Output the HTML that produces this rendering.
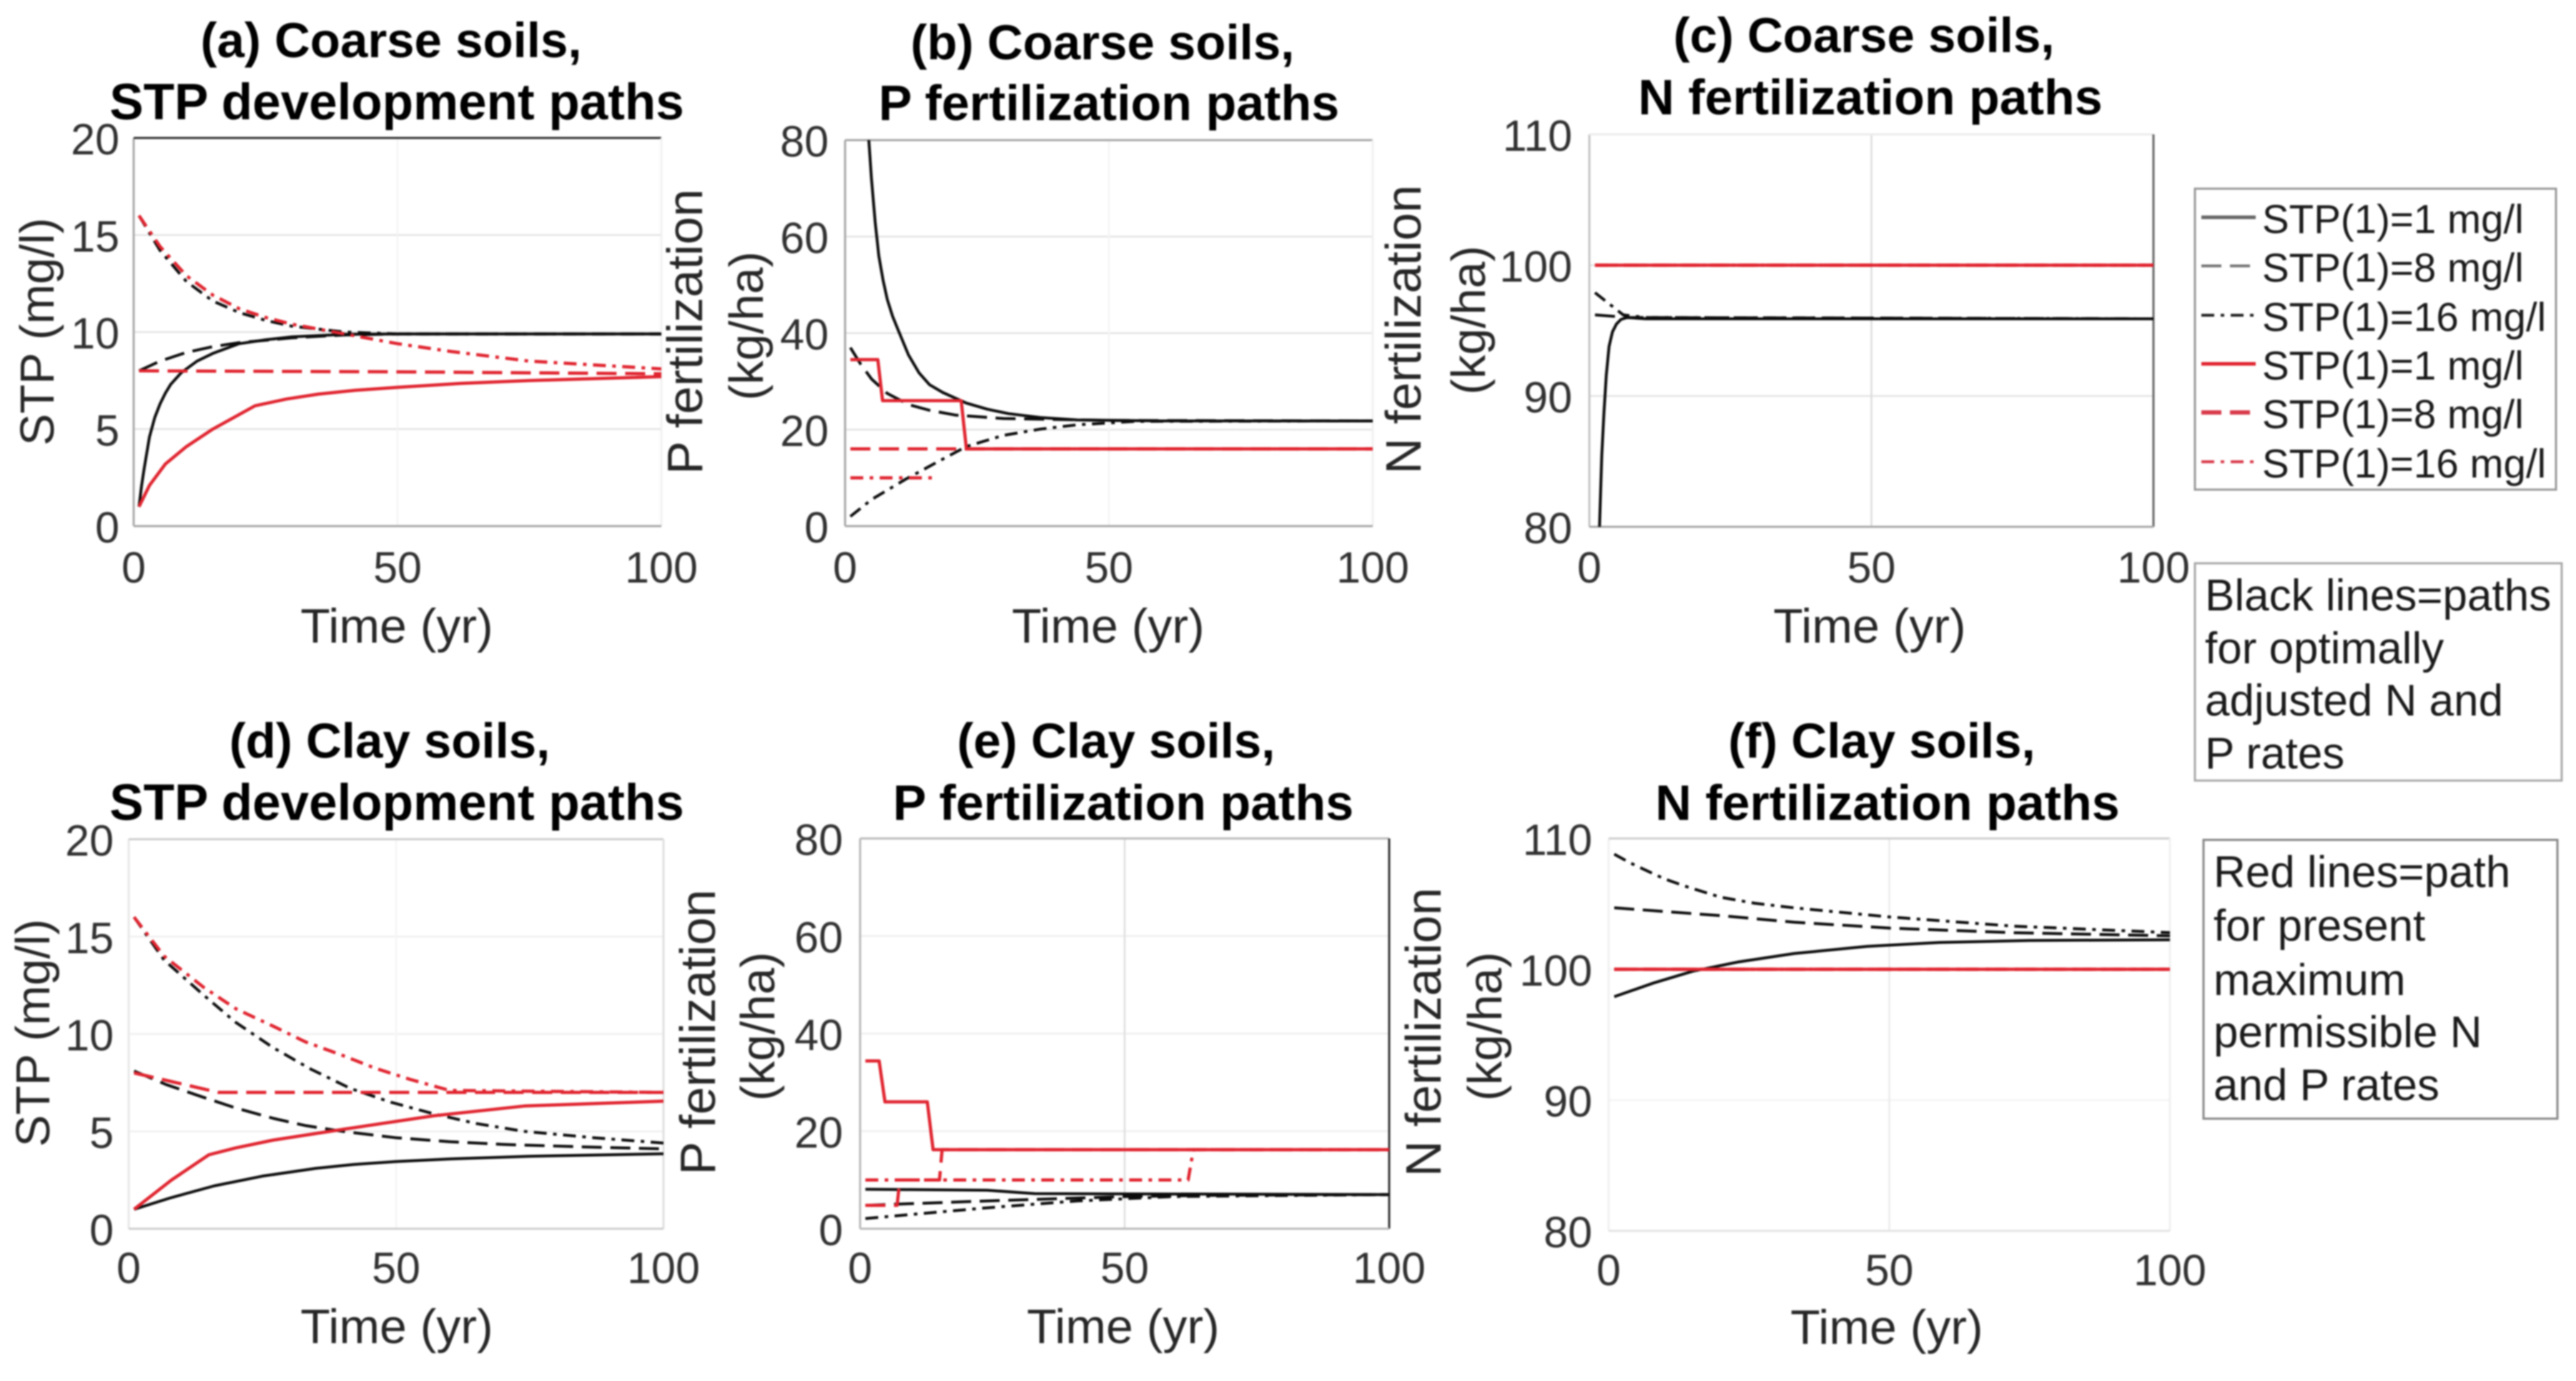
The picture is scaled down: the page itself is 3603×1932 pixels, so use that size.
<!DOCTYPE html>
<html lang="en">
<head>
<meta charset="utf-8">
<title>Coarse and clay soil fertilization paths</title>
<style>
html,body{margin:0;padding:0;background:#fff;width:3603px;height:1932px;overflow:hidden}
svg{display:block;filter:blur(1px)}
text{font-family:"Liberation Sans",Arial,sans-serif}
.title{font-size:70px;font-weight:bold;fill:#000;text-anchor:middle}
.title1{font-size:69px}
.title2{font-size:71px}
.lab{font-size:67px;fill:#262626;text-anchor:middle}
.time{font-size:68px}
.fert{font-size:70px}
.tick{font-size:61px;fill:#303030}
.leg{font-size:56.5px;fill:#1a1a1a}
.note{font-size:62px;fill:#1a1a1a}
</style>
</head>
<body>
<svg id="figure" xmlns="http://www.w3.org/2000/svg" width="3603" height="1932" viewBox="0 0 3603 1932">
  <rect width="3603" height="1932" fill="#fff"/>

  <g>
    <text class="title title1" x="547" y="80">(a) Coarse soils,</text>
    <text class="title title2" x="555" y="167">STP development paths</text>
    <text class="title title1" x="1542" y="83">(b) Coarse soils,</text>
    <text class="title" x="1551" y="168">P fertilization paths</text>
    <text class="title title1" x="2607" y="73">(c) Coarse soils,</text>
    <text class="title" x="2616" y="160">N fertilization paths</text>
    <text class="title title1" x="545" y="1060">(d) Clay soils,</text>
    <text class="title title2" x="555" y="1147">STP development paths</text>
    <text class="title title1" x="1561" y="1060">(e) Clay soils,</text>
    <text class="title" x="1571" y="1147">P fertilization paths</text>
    <text class="title title1" x="2632" y="1060">(f) Clay soils,</text>
    <text class="title" x="2640" y="1147">N fertilization paths</text>
  </g>

  <g>
    <text class="lab time" x="555" y="899">Time (yr)</text>
    <text class="lab time" x="1550" y="899">Time (yr)</text>
    <text class="lab time" x="2615" y="899">Time (yr)</text>
    <text class="lab time" x="555" y="1879">Time (yr)</text>
    <text class="lab time" x="1571" y="1879">Time (yr)</text>
    <text class="lab time" x="2639" y="1880">Time (yr)</text>
  </g>

  <g>
    <text class="lab" transform="translate(75 464) rotate(-90)">STP (mg/l)</text>
    <text class="lab fert" transform="translate(982 464) rotate(-90)">P fertilization</text>
    <text class="lab" transform="translate(1067 456) rotate(-90)">(kg/ha)</text>
    <text class="lab fert" transform="translate(1987 461) rotate(-90)">N fertilization</text>
    <text class="lab" transform="translate(2077 448) rotate(-90)">(kg/ha)</text>
    <text class="lab" transform="translate(69 1445) rotate(-90)">STP (mg/l)</text>
    <text class="lab fert" transform="translate(1000 1444) rotate(-90)">P fertilization</text>
    <text class="lab" transform="translate(1083 1436) rotate(-90)">(kg/ha)</text>
    <text class="lab fert" transform="translate(2015 1444) rotate(-90)">N fertilization</text>
    <text class="lab" transform="translate(2100 1436) rotate(-90)">(kg/ha)</text>
  </g>

  <g id="panels"></g>

  <g>
    <rect x="3070" y="264" width="505" height="421" fill="#fff" stroke="#999" stroke-width="3"/>
    <line x1="3079" x2="3155" y1="304" y2="304" stroke="#666" stroke-width="5"/>
    <text class="leg" x="3164" y="326">STP(1)=1 mg/l</text>
    <line x1="3079" x2="3155" y1="372" y2="372" stroke="#777" stroke-width="4" stroke-dasharray="28 12"/>
    <text class="leg" x="3164" y="394">STP(1)=8 mg/l</text>
    <line x1="3079" x2="3155" y1="441" y2="441" stroke="#222" stroke-width="4" stroke-dasharray="18 9 5 9"/>
    <text class="leg" x="3164" y="463">STP(1)=16 mg/l</text>
    <line x1="3079" x2="3155" y1="509" y2="509" stroke="#e0242f" stroke-width="5"/>
    <text class="leg" x="3164" y="531">STP(1)=1 mg/l</text>
    <line x1="3079" x2="3155" y1="577" y2="577" stroke="#d83a4a" stroke-width="6" stroke-dasharray="28 12"/>
    <text class="leg" x="3164" y="599">STP(1)=8 mg/l</text>
    <line x1="3079" x2="3155" y1="646" y2="646" stroke="#d83a4a" stroke-width="4" stroke-dasharray="18 9 5 9"/>
    <text class="leg" x="3164" y="668">STP(1)=16 mg/l</text>
  </g>

  <g>
    <rect x="3070" y="788" width="513" height="304" fill="#fff" stroke="#aaa" stroke-width="3"/>
    <text class="note" x="3084" y="854">Black lines=paths</text>
    <text class="note" x="3084" y="928">for optimally</text>
    <text class="note" x="3084" y="1001">adjusted N and</text>
    <text class="note" x="3084" y="1075">P rates</text>
  </g>

  <g>
    <rect x="3082" y="1175" width="495" height="390" fill="#fff" stroke="#888" stroke-width="3"/>
    <text class="note" x="3096" y="1241">Red lines=path</text>
    <text class="note" x="3096" y="1316">for present</text>
    <text class="note" x="3096" y="1392">maximum</text>
    <text class="note" x="3096" y="1465">permissible N</text>
    <text class="note" x="3096" y="1539">and P rates</text>
  </g>
</svg>

<script>
// Tick labels
const xTickValues = [0, 50, 100];
const stpTicks = [0, 5, 10, 15, 20];
const pTicks = [0, 20, 40, 60, 80];
const nTicks = [80, 90, 100, 110];

// Panel (a): coarse soils, STP development
const aBlackSolidT = [1, 1.5, 2, 3, 4, 5, 6, 7, 9, 12, 15, 20, 25, 30, 40, 50, 100];
const aBlackSolidV = [1, 2.1, 3, 4.6, 5.6, 6.3, 6.85, 7.3, 7.9, 8.5, 8.9, 9.4, 9.6, 9.75, 9.88, 9.9, 9.9];
const aBlackDashT = [1, 5, 10, 15, 20, 30, 40, 50, 100];
const aBlackDashV = [8, 8.5, 8.95, 9.25, 9.45, 9.7, 9.85, 9.9, 9.9];
const aBlackDotT = [1, 5, 10, 15, 20, 25, 30, 40, 50, 100];
const aBlackDotV = [16, 14.2, 12.6, 11.6, 11, 10.6, 10.3, 10, 9.9, 9.9];
const aRedSolidT = [1, 3, 6, 10, 15, 23, 29, 35, 42, 50, 62, 75, 100];
const aRedSolidV = [1, 2.1, 3.2, 4.1, 5, 6.2, 6.55, 6.8, 7, 7.15, 7.35, 7.5, 7.7];
const aRedDashT = [1, 50, 100];
const aRedDashV = [8, 7.95, 7.85];
const aRedDotT = [1, 5, 10, 15, 20, 25, 30, 40, 50, 60, 75, 100];
const aRedDotV = [16, 14.4, 12.9, 11.9, 11.2, 10.75, 10.4, 9.9, 9.4, 9, 8.5, 8.1];

// Panel (b): coarse soils, P fertilization
const bBlackSolidT = [4, 4.5, 5, 5.7, 6.4, 7.2, 8, 9, 10, 12, 14, 16, 18.5, 23, 27, 31, 37, 44, 60, 100];
const bBlackSolidV = [90, 80, 72, 63, 56, 51, 47, 43.5, 40.8, 35.5, 31.8, 29.3, 27.7, 25.5, 24.2, 23.3, 22.5, 22, 21.8, 21.8];
const bBlackDashT = [1, 3, 5, 8, 12, 16, 21, 30, 50, 100];
const bBlackDashV = [37, 33.5, 30.5, 27.5, 25.2, 24, 23, 22.3, 21.9, 21.8];
const bBlackDotT = [1, 5, 11.6, 17, 23, 30, 37, 44, 55, 100];
const bBlackDotV = [2, 5.5, 9.8, 13, 16.5, 18.8, 20.1, 21, 21.7, 21.8];
const bRedSolidT = [1, 6.2, 7.1, 22, 23, 100];
const bRedSolidV = [34.5, 34.5, 26, 26, 16, 16];
const bRedDashT = [1, 23, 100];
const bRedDashV = [16, 16, 16];
const bRedDotT = [1, 16.7];
const bRedDotV = [10, 10];

// Panel (c): coarse soils, N fertilization
const cBlackSolidT = [1.5, 1.8, 2.2, 2.6, 3, 3.5, 4.1, 4.8, 5.6, 6.7, 10, 100];
const cBlackSolidV = [75, 80, 85.5, 88.8, 91.6, 93.8, 94.9, 95.5, 95.85, 96, 95.9, 95.9];
const cBlackDashT = [1, 7, 100];
const cBlackDashV = [96.2, 96, 95.9];
const cBlackDotT = [1, 6, 10, 100];
const cBlackDotV = [97.9, 96.2, 96, 95.9];
const cRedSolidT = [1, 100];
const cRedSolidV = [100, 100];
const cRedDashT = [1, 100];
const cRedDashV = [100, 100];
const cRedDotT = [1, 100];
const cRedDotV = [100, 100];

// Panel (d): clay soils, STP development
const dBlackSolidT = [1, 8, 16, 25, 35, 42, 50, 60, 75, 100];
const dBlackSolidV = [1, 1.6, 2.2, 2.7, 3.1, 3.3, 3.45, 3.58, 3.72, 3.85];
const dBlackDashT = [1, 7, 13.4, 20, 27, 33, 40, 50, 60, 70, 85, 100];
const dBlackDashV = [8.1, 7.4, 6.8, 6.2, 5.67, 5.3, 5, 4.67, 4.47, 4.33, 4.2, 4.1];
const dBlackDotT = [1, 6.6, 14, 20, 27, 34, 41.5, 49, 57, 65, 74, 87, 100];
const dBlackDotV = [16, 13.8, 12, 10.6, 9.3, 8.2, 7.2, 6.5, 5.9, 5.4, 5, 4.67, 4.4];
const dRedSolidT = [1, 8, 15, 20, 27, 40, 57, 74, 100];
const dRedSolidV = [1, 2.5, 3.8, 4.15, 4.55, 5.1, 5.8, 6.3, 6.55];
const dRedDashT = [1, 16.8, 100];
const dRedDashV = [8, 7, 7];
const dRedDotT = [1, 6.6, 14, 20, 27, 33, 40, 46, 52.6, 60, 100];
const dRedDotV = [16, 14, 12.4, 11.3, 10.4, 9.6, 8.9, 8.25, 7.67, 7.1, 7];

// Panel (e): clay soils, P fertilization
const eBlackSolidT = [1, 24, 33, 100];
const eBlackSolidV = [8.1, 7.9, 7.2, 7];
const eBlackDashT = [1, 24, 50, 67, 100];
const eBlackDashV = [4.8, 5.7, 6.6, 6.85, 7];
const eBlackDotT = [1, 24, 41, 59, 100];
const eBlackDotV = [2.1, 4.3, 5.7, 6.6, 7];
const eRedSolidT = [1, 3.6, 4.7, 12.7, 13.8, 100];
const eRedSolidV = [34.4, 34.4, 26, 26, 16.2, 16.2];
const eRedDashT = [1, 7, 7.5, 15, 15.5, 100];
const eRedDashV = [4.8, 4.8, 10, 10, 16.2, 16.2];
const eRedDotT = [1, 62, 63, 100];
const eRedDotV = [10, 10, 16.2, 16.2];

// Panel (f): clay soils, N fertilization
const fBlackSolidT = [1, 8, 15, 23, 33, 46, 59, 75, 100];
const fBlackSolidV = [97.9, 98.95, 99.85, 100.55, 101.2, 101.75, 102.05, 102.2, 102.25];
const fBlackDashT = [1, 20, 33, 50, 72, 100];
const fBlackDashV = [104.7, 104.1, 103.6, 103.15, 102.8, 102.55];
const fBlackDotT = [1, 4, 7, 10, 14, 20, 26, 33, 50, 72, 100];
const fBlackDotV = [108.8, 108.1, 107.5, 106.9, 106.3, 105.5, 105.05, 104.7, 104, 103.3, 102.8];
const fRedSolidT = [1, 100];
const fRedSolidV = [100, 100];
const fRedDashT = [1, 100];
const fRedDashV = [100, 100];
const fRedDotT = [1, 100];
const fRedDotV = [100, 100];

const SVG_NS = 'http://www.w3.org/2000/svg';
const panelsRoot = document.getElementById('panels');

function makeEl(tag, attrs, parent) {
  const el = document.createElementNS(SVG_NS, tag);
  for (const k in attrs) el.setAttribute(k, attrs[k]);
  parent.appendChild(el);
  return el;
}

function linePath(ts, vs, xs, ys) {
  return ts.map((t, i) => (i ? 'L' : 'M') + xs(t).toFixed(1) + ' ' + ys(vs[i]).toFixed(1)).join(' ');
}

function lineStyle(kind) {
  const red = kind.indexOf('red') === 0;
  const dash = kind.indexOf('dash') > 0;
  const dot = kind.indexOf('dot') > 0;
  return {
    stroke: red ? '#e0242f' : '#0c0c0c',
    width: red ? 4.5 : 4,
    dash: dash ? '28 12' : (dot ? '18 9 5 9' : 'none')
  };
}

function drawPanel(cfg) {
  const g = makeEl('g', {}, panelsRoot);
  
  

  const xs = t => cfg.x0 + (t / 100) * (cfg.x1 - cfg.x0);
  const ys = v => cfg.y1 - ((v - cfg.ticks[0]) / (cfg.ticks[cfg.ticks.length - 1] - cfg.ticks[0])) * (cfg.y1 - cfg.y0);

  // grid
  cfg.ticks.slice(1, -1).forEach(v => {
    const gl = makeEl('line', { x1: cfg.x0, x2: cfg.x1, y1: ys(v), y2: ys(v), stroke: cfg.gridY, 'stroke-width': 2.5 }, g);
    
    
  });
  const gx = makeEl('line', { x1: xs(50), x2: xs(50), y1: cfg.y0, y2: cfg.y1, stroke: cfg.gridX, 'stroke-width': 2.5 }, g);
  
  

  // frame edges
  const edges = [
    ['left', cfg.x0, cfg.y0, cfg.x0, cfg.y1],
    ['top', cfg.x0, cfg.y0, cfg.x1, cfg.y0],
    ['right', cfg.x1, cfg.y0, cfg.x1, cfg.y1],
    ['bottom', cfg.x0, cfg.y1, cfg.x1, cfg.y1]
  ];
  edges.forEach((e, i) => {
    const ln = makeEl('line', { x1: e[1], y1: e[2], x2: e[3], y2: e[4], stroke: cfg.edges[i], 'stroke-width': 3 }, g);
    
    
  });

  // x tick labels
  xTickValues.forEach(t => {
    const tx = makeEl('text', { class: 'tick', x: xs(t), y: cfg.xLabelY, 'text-anchor': 'middle' }, g);
    
    
    tx.textContent = t;
  });

  // y tick labels
  cfg.ticks.forEach(v => {
    const ty = makeEl('text', { class: 'tick', x: cfg.yLabelX, y: ys(v) + 23, 'text-anchor': 'end' }, g);
    
    
    ty.textContent = v;
  });

  // clip
  const clip = makeEl('clipPath', { id: 'clip-' + cfg.id }, g);
  makeEl('rect', { x: cfg.x0, y: cfg.y0, width: cfg.x1 - cfg.x0, height: cfg.y1 - cfg.y0 }, clip);
  const plot = makeEl('g', { 'clip-path': 'url(#clip-' + cfg.id + ')' }, g);

  // series
  cfg.series.forEach(s => {
    const st = lineStyle(s.kind);
    const p = makeEl('path', {
      d: linePath(s.t, s.v, xs, ys),
      fill: 'none',
      stroke: st.stroke,
      'stroke-width': st.width,
      'stroke-dasharray': st.dash,
      'stroke-linejoin': 'round'
    }, plot);
    
    
  });
}

drawPanel({
  id: 'a', x0: 187, x1: 925, y0: 193, y1: 736, ticks: stpTicks, xLabelY: 815, yLabelX: 167,
  edges: ['#aaa', '#333', '#f0f0f0', '#aaa'], gridX: '#f4f4f4', gridY: '#e4e4e4',
  series: [
    { kind: 'black-solid', t: aBlackSolidT, v: aBlackSolidV },
    { kind: 'black-dash', t: aBlackDashT, v: aBlackDashV },
    { kind: 'black-dot', t: aBlackDotT, v: aBlackDotV },
    { kind: 'red-solid', t: aRedSolidT, v: aRedSolidV },
    { kind: 'red-dash', t: aRedDashT, v: aRedDashV },
    { kind: 'red-dot', t: aRedDotT, v: aRedDotV }
  ]
});

drawPanel({
  id: 'b', x0: 1182, x1: 1920, y0: 196, y1: 736, ticks: pTicks, xLabelY: 815, yLabelX: 1159,
  edges: ['#aaa', '#aaa', '#f0f0f0', '#aaa'], gridX: '#f4f4f4', gridY: '#e4e4e4',
  series: [
    { kind: 'black-solid', t: bBlackSolidT, v: bBlackSolidV },
    { kind: 'black-dash', t: bBlackDashT, v: bBlackDashV },
    { kind: 'black-dot', t: bBlackDotT, v: bBlackDotV },
    { kind: 'red-solid', t: bRedSolidT, v: bRedSolidV },
    { kind: 'red-dash', t: bRedDashT, v: bRedDashV },
    { kind: 'red-dot', t: bRedDotT, v: bRedDotV }
  ]
});

drawPanel({
  id: 'c', x0: 2223, x1: 3012, y0: 188, y1: 737, ticks: nTicks, xLabelY: 815, yLabelX: 2199,
  edges: ['#c4c4c4', '#ececec', '#666', '#aaa'], gridX: '#dcdcdc', gridY: '#e4e4e4',
  series: [
    { kind: 'black-solid', t: cBlackSolidT, v: cBlackSolidV },
    { kind: 'black-dash', t: cBlackDashT, v: cBlackDashV },
    { kind: 'black-dot', t: cBlackDotT, v: cBlackDotV },
    { kind: 'red-solid', t: cRedSolidT, v: cRedSolidV },
    { kind: 'red-dash', t: cRedDashT, v: cRedDashV },
    { kind: 'red-dot', t: cRedDotT, v: cRedDotV }
  ]
});

drawPanel({
  id: 'd', x0: 180, x1: 928, y0: 1174, y1: 1719, ticks: stpTicks, xLabelY: 1795, yLabelX: 159,
  edges: ['#e8e8e8', '#cfcfcf', '#e0e0e0', '#cfcfcf'], gridX: '#f6f6f6', gridY: '#f0f0f0',
  series: [
    { kind: 'black-solid', t: dBlackSolidT, v: dBlackSolidV },
    { kind: 'black-dash', t: dBlackDashT, v: dBlackDashV },
    { kind: 'black-dot', t: dBlackDotT, v: dBlackDotV },
    { kind: 'red-solid', t: dRedSolidT, v: dRedSolidV },
    { kind: 'red-dash', t: dRedDashT, v: dRedDashV },
    { kind: 'red-dot', t: dRedDotT, v: dRedDotV }
  ]
});

drawPanel({
  id: 'e', x0: 1203, x1: 1943, y0: 1173, y1: 1719, ticks: pTicks, xLabelY: 1795, yLabelX: 1179,
  edges: ['#bbb', '#bbb', '#333', '#bbb'], gridX: '#dedede', gridY: '#f0f0f0',
  series: [
    { kind: 'black-solid', t: eBlackSolidT, v: eBlackSolidV },
    { kind: 'black-dash', t: eBlackDashT, v: eBlackDashV },
    { kind: 'black-dot', t: eBlackDotT, v: eBlackDotV },
    { kind: 'red-solid', t: eRedSolidT, v: eRedSolidV },
    { kind: 'red-dash', t: eRedDashT, v: eRedDashV },
    { kind: 'red-dot', t: eRedDotT, v: eRedDotV }
  ]
});

drawPanel({
  id: 'f', x0: 2250, x1: 3035, y0: 1173, y1: 1722, ticks: nTicks, xLabelY: 1798, yLabelX: 2227,
  edges: ['#f0f0f0', '#cfcfcf', '#f0f0f0', '#e4e4e4'], gridX: '#eaeaea', gridY: '#f4f4f4',
  series: [
    { kind: 'black-solid', t: fBlackSolidT, v: fBlackSolidV },
    { kind: 'black-dash', t: fBlackDashT, v: fBlackDashV },
    { kind: 'black-dot', t: fBlackDotT, v: fBlackDotV },
    { kind: 'red-solid', t: fRedSolidT, v: fRedSolidV },
    { kind: 'red-dash', t: fRedDashT, v: fRedDashV },
    { kind: 'red-dot', t: fRedDotT, v: fRedDotV }
  ]
});
</script>
</body>
</html>
